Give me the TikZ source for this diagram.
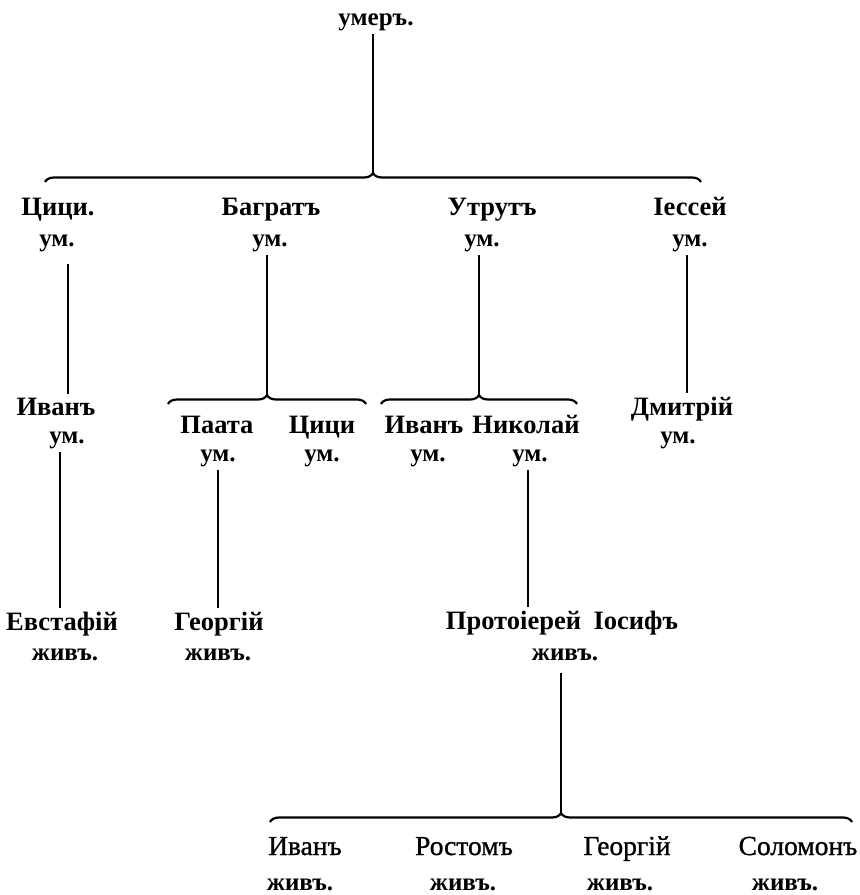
\documentclass[tikz,border=0pt]{standalone}
\usepackage{fontspec}
\setmainfont{Liberation Serif}
\newfontfamily\medfont{Liberation Serif}[FakeBold=1]
\usetikzlibrary{calc,decorations.pathreplacing}

\tikzset{
  person/.style={anchor=base,font=\fontsize{26.5}{30}\selectfont\bfseries},
  lightperson/.style={anchor=base,font=\fontsize{27.5}{30}\selectfont\medfont},
  status/.style={anchor=base,font=\fontsize{25}{28}\selectfont\bfseries},
  kin/.style={line width=1.1pt},
  fam/.style={line width=2.2pt,decorate,decoration={brace,amplitude=9pt}}
}

\begin{document}
\begin{tikzpicture}[x=1pt,y=-1pt]
    \useasboundingbox (0,0) rectangle (860,895);
    % --- root
    \node[status] (root) at (376,25) {умеръ.};
    % --- first generation
    \node[person] (tsitsi) at (58,215) {Цици.};
    \node[status] (tsitsiUm) at (57,246) {ум.};
    \node[person] (bagrat) at (271,215) {Багратъ};
    \node[status] (bagratUm) at (270,246) {ум.};
    \node[person] (utrut) at (492,215) {Утрутъ};
    \node[status] (utrutUm) at (482,246) {ум.};
    \node[person] (iessei) at (690,215) {Іессей};
    \node[status] (iesseiUm) at (690,246) {ум.};
    % --- second generation
    \node[person] (ivan) at (56,415) {Иванъ};
    \node[status] (ivanUm) at (67,443) {ум.};
    \node[person] (paata) at (217,433) {Паата};
    \node[status] (paataUm) at (218,461) {ум.};
    \node[person] (tsitsiB) at (322,433) {Цици};
    \node[status] (tsitsiBUm) at (322,461) {ум.};
    \node[person] (ivanB) at (424,433) {Иванъ};
    \node[status] (ivanBUm) at (428,461) {ум.};
    \node[person] (nikolai) at (526,433) {Николай};
    \node[status] (nikolaiUm) at (530,461) {ум.};
    \node[person] (dmitri) at (682,415) {Дмитрій};
    \node[status] (dmitriUm) at (678,443) {ум.};
    % --- third generation
    \node[person] (evstafi) at (62,630) {Евстафій};
    \node[status] (evstafiZh) at (65,660) {живъ.};
    \node[person] (giorgi) at (219,630) {Георгій};
    \node[status] (giorgiZh) at (218,660) {живъ.};
    \node[person] (iosif) at (562,629) {Протоіерей\hspace{6pt} Іосифъ};
    \node[status] (iosifZh) at (565,660) {живъ.};
    % --- fourth generation
    \node[lightperson] (ivanC) at (305,855) {Иванъ};
    \node[status] (ivanCZh) at (300,890) {живъ.};
    \node[lightperson] (rostom) at (464,855) {Ростомъ};
    \node[status] (rostomZh) at (463,890) {живъ.};
    \node[lightperson] (giorgiC) at (627,855) {Георгій};
    \node[status] (giorgiCZh) at (620,890) {живъ.};
    \node[lightperson] (solomon) at (798,855) {Соломонъ};
    \node[status] (solomonZh) at (785,890) {живъ.};
    % --- braces over the children
    \coordinate (topL) at (45,182);   \coordinate (topR) at (701,182);
    \coordinate (bagL) at (168,404);  \coordinate (bagR) at (366,404);
    \coordinate (utrL) at (381,404);  \coordinate (utrR) at (577,404);
    \coordinate (iosL) at (270,822);  \coordinate (iosR) at (852,822);
    \draw[fam] (topL) -- (topR);
    \draw[fam] (bagL) -- (bagR);
    \draw[fam] (utrL) -- (utrR);
    \draw[fam] (iosL) -- (iosR);
    \coordinate (topTip) at ($(topL)!0.5!(topR)+(0,-9)$);
    \coordinate (bagTip) at ($(bagL)!0.5!(bagR)+(0,-9)$);
    \coordinate (utrTip) at ($(utrL)!0.5!(utrR)+(0,-9)$);
    \coordinate (iosTip) at ($(iosL)!0.5!(iosR)+(0,-9)$);
    % --- descent lines
    \draw[kin] (root.south -| topTip) -- (topTip);
    \draw[kin] (bagratUm.south -| bagTip) -- (bagTip);
    \draw[kin] (utrutUm.south -| utrTip) -- (utrTip);
    \draw[kin,shorten <=9pt] ([xshift=11pt]tsitsiUm.south) -- ([xshift=11pt]tsitsiUm.south |- ivan.north);
    \draw[kin] ([xshift=-3pt]iesseiUm.south) -- ([xshift=-3pt]iesseiUm.south |- dmitri.north);
    \draw[kin] ([xshift=-7pt]ivanUm.south) -- ([xshift=-7pt]ivanUm.south |- evstafi.north);
    \draw[kin] (paataUm.south) -- (paataUm.south |- giorgi.north);
    \draw[kin] ([xshift=-2pt]nikolaiUm.south) -- ([xshift=-2pt]nikolaiUm.south |- iosif.north);
    \draw[kin,shorten <=9pt] (iosifZh.south -| iosTip) -- (iosTip);
  \end{tikzpicture}
\end{document}
